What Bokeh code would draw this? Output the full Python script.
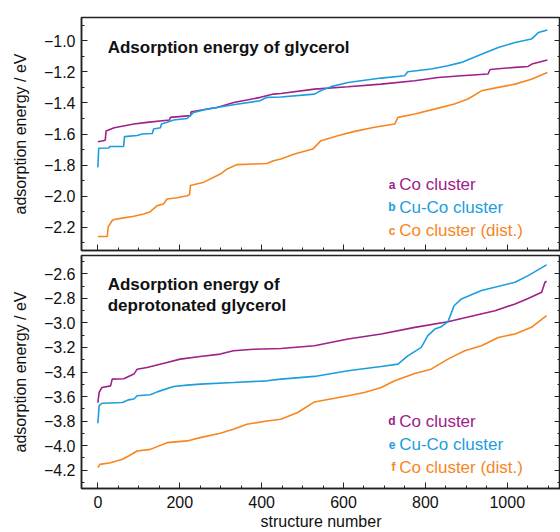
from bokeh.plotting import figure
from bokeh.models import Range1d, LinearAxis, Label, CustomJSTickFormatter, FixedTicker, CustomLabelingPolicy
from bokeh.layouts import column
from bokeh.embed import file_html
from bokeh.resources import INLINE

# ---------------- data ----------------
# top panel: adsorption energy of glycerol
a_n = [0, 10, 18, 20, 40, 88, 120, 175, 177, 226, 228, 291, 332, 397, 429, 447, 529, 611, 692, 774, 831, 888, 953, 958, 1019, 1051, 1060, 1098]
a_e = [-1.65, -1.645, -1.64, -1.58, -1.56, -1.536, -1.525, -1.51, -1.493, -1.482, -1.457, -1.429, -1.397, -1.364, -1.343, -1.339, -1.311, -1.296, -1.279, -1.257, -1.236, -1.225, -1.214, -1.185, -1.171, -1.165, -1.150, -1.124]

b_n = [0, 2, 27, 29, 63, 65, 96, 108, 133, 136, 153, 155, 169, 185, 218, 234, 266, 331, 396, 413, 447, 529, 545, 570, 611, 692, 749, 757, 814, 855, 888, 937, 978, 1019, 1059, 1076, 1098]
b_e = [-1.815, -1.692, -1.69, -1.68, -1.68, -1.617, -1.61, -1.60, -1.597, -1.568, -1.56, -1.536, -1.525, -1.51, -1.50, -1.461, -1.44, -1.412, -1.386, -1.364, -1.362, -1.343, -1.32, -1.295, -1.268, -1.240, -1.225, -1.199, -1.182, -1.161, -1.139, -1.086, -1.043, -1.011, -0.989, -0.947, -0.931]

c_n = [0, 23, 25, 35, 40, 63, 88, 112, 128, 145, 160, 169, 194, 218, 224, 226, 259, 283, 299, 316, 340, 381, 413, 429, 447, 480, 525, 545, 586, 627, 676, 725, 733, 774, 822, 871, 904, 937, 978, 1019, 1059, 1098]
c_e = [-2.26, -2.26, -2.20, -2.157, -2.15, -2.14, -2.13, -2.115, -2.10, -2.061, -2.05, -2.018, -2.01, -1.997, -1.99, -1.932, -1.91, -1.879, -1.858, -1.825, -1.797, -1.793, -1.79, -1.772, -1.761, -1.729, -1.697, -1.643, -1.611, -1.583, -1.557, -1.536, -1.493, -1.471, -1.44, -1.407, -1.375, -1.322, -1.30, -1.279, -1.247, -1.204]

# bottom panel: adsorption energy of deprotonated glycerol
d_n = [0, 3, 10, 31, 35, 63, 88, 96, 120, 169, 201, 250, 299, 331, 380, 447, 529, 611, 692, 774, 855, 920, 970, 1019, 1051, 1084, 1092, 1096]
d_e = [-3.649, -3.567, -3.526, -3.513, -3.458, -3.455, -3.417, -3.377, -3.363, -3.322, -3.295, -3.273, -3.254, -3.227, -3.215, -3.208, -3.186, -3.131, -3.09, -3.036, -2.99, -2.94, -2.90, -2.845, -2.80, -2.75, -2.668, -2.66]

e_n = [0, 3, 10, 60, 75, 88, 96, 128, 145, 185, 218, 250, 331, 413, 447, 529, 611, 692, 733, 757, 790, 806, 823, 839, 855, 862, 870, 888, 937, 1019, 1051, 1096]
e_e = [-3.818, -3.676, -3.655, -3.649, -3.627, -3.62, -3.594, -3.586, -3.562, -3.518, -3.507, -3.499, -3.486, -3.472, -3.458, -3.436, -3.39, -3.355, -3.336, -3.268, -3.199, -3.104, -3.05, -3.03, -2.99, -2.93, -2.86, -2.804, -2.736, -2.668, -2.614, -2.526]

f_n = [0, 5, 31, 60, 75, 96, 128, 169, 218, 250, 299, 331, 364, 413, 447, 488, 529, 611, 651, 692, 725, 774, 814, 855, 896, 937, 978, 1019, 1059, 1096]
f_e = [-4.18, -4.153, -4.14, -4.112, -4.085, -4.044, -4.031, -3.976, -3.962, -3.935, -3.90, -3.867, -3.826, -3.799, -3.785, -3.73, -3.644, -3.594, -3.567, -3.526, -3.472, -3.412, -3.377, -3.295, -3.227, -3.186, -3.118, -3.09, -3.036, -2.94]

x_ticks = [0, 200, 400, 600, 800, 1000]
x_minor = list(range(0, 1150, 50))
top_y_ticks = [-2.2, -2.0, -1.8, -1.6, -1.4, -1.2, -1.0]
bot_y_ticks = [-4.2, -4.0, -3.8, -3.6, -3.4, -3.2, -3.0, -2.8, -2.6]

top_title = "Adsorption energy of glycerol"
bot_title = ["Adsorption energy of", "deprotonated glycerol"]
top_letters = ["a", "b", "c"]
bot_letters = ["d", "e", "f"]
names = ["Co cluster", "Cu-Co cluster", "Co cluster (dist.)"]

PURPLE = "#a0208a"
BLUE = "#1c9ddf"
ORANGE = "#f7861f"
colors = [PURPLE, BLUE, ORANGE]
FONT = "Liberation Sans"
AX = "#222222"

fmt = CustomJSTickFormatter(code="return tick.toFixed(1).replace('-', '\u2212');")
no_labels = CustomLabelingPolicy(code="for (const i of indices) { indices.unset(i) }\nreturn indices")


def style_axis(ax, labels=True):
    ax.axis_line_color = AX
    ax.axis_line_width = 1.5
    ax.major_tick_line_color = AX
    ax.minor_tick_line_color = AX
    ax.major_tick_in = 6
    ax.major_tick_out = 0
    ax.minor_tick_in = 3
    ax.minor_tick_out = 0
    ax.major_label_text_font = FONT
    ax.major_label_text_font_size = "16px"
    ax.major_label_text_color = "#111111"
    ax.axis_label_text_font = FONT
    ax.axis_label_text_font_size = "16px"
    ax.axis_label_text_font_style = "normal"
    ax.axis_label_text_color = "#111111"
    if not labels:
        ax.major_label_policy = no_labels
        ax.major_label_text_font_size = "0px"
        ax.major_label_standoff = 0


def make_fig(yr, yticks, h, bt, bb, xlabels):
    p = figure(width=560, height=h, x_range=Range1d(-40, 1130), y_range=Range1d(*yr),
               output_backend="svg", toolbar_location=None, min_border_left=81, min_border_right=0,
               min_border_top=bt, min_border_bottom=bb)
    p.grid.visible = False
    p.background_fill_color = "white"
    p.outline_line_color = AX
    p.outline_line_width = 1.5
    p.xaxis.ticker = FixedTicker(ticks=x_ticks, minor_ticks=x_minor)
    yminor = [round(yticks[0] - 0.1 + 0.1 * i, 1) for i in range(len(yticks) * 2 + 1)]
    p.yaxis.ticker = FixedTicker(ticks=yticks, minor_ticks=yminor)
    p.yaxis.formatter = fmt
    p.yaxis.axis_label = "adsorption energy / eV"
    p.yaxis.major_label_standoff = 6
    p.yaxis.axis_label_standoff = 12
    style_axis(p.yaxis[0])
    style_axis(p.xaxis[0], labels=xlabels)
    if xlabels:
        p.xaxis.axis_label = "structure number"
        p.xaxis.major_label_standoff = 7
        p.xaxis.axis_label_standoff = 2
    ry = LinearAxis(ticker=p.yaxis.ticker, formatter=fmt)
    style_axis(ry, labels=False)
    p.add_layout(ry, "right")
    return p


top = make_fig((-2.35, -0.85), top_y_ticks, 253, 17, 3, False)
bot = make_fig((-4.35, -2.45), bot_y_ticks, 279, 2, 0, True)

for n, e, c in zip([a_n, b_n, c_n], [a_e, b_e, c_e], colors):
    top.line(n, e, line_color=c, line_width=1.6)
for n, e, c in zip([d_n, e_n, f_n], [d_e, e_e, f_e], colors):
    bot.line(n, e, line_color=c, line_width=1.6)

top.add_layout(Label(x=24, y=-1.042, text=top_title, text_font=FONT, text_font_size="17px",
                     text_font_style="bold", text_color="#111111", text_baseline="alphabetic"))
bot.add_layout(Label(x=24, y=-2.69, text=bot_title[0], text_font=FONT, text_font_size="17px",
                     text_font_style="bold", text_color="#111111", text_baseline="alphabetic"))
bot.add_layout(Label(x=24, y=-2.86, text=bot_title[1], text_font=FONT, text_font_size="17px",
                     text_font_style="bold", text_color="#111111", text_baseline="alphabetic"))

top_y = [-1.926, -2.072, -2.222]
bot_y = [-3.80, -3.99, -4.178]
for p, letters, ys in [(top, top_letters, top_y), (bot, bot_letters, bot_y)]:
    for L, nm, c, yy in zip(letters, names, colors, ys):
        p.add_layout(Label(x=727, y=yy, text=L, text_font=FONT, text_font_size="12px",
                           text_font_style="bold", text_color=c, text_align="right",
                           text_baseline="alphabetic"))
        p.add_layout(Label(x=736, y=yy, text=nm, text_font=FONT, text_font_size="17px",
                           text_color=c, text_baseline="alphabetic"))

layout = column(top, bot, spacing=0)
open("out.html", "w").write(file_html(layout, INLINE))
